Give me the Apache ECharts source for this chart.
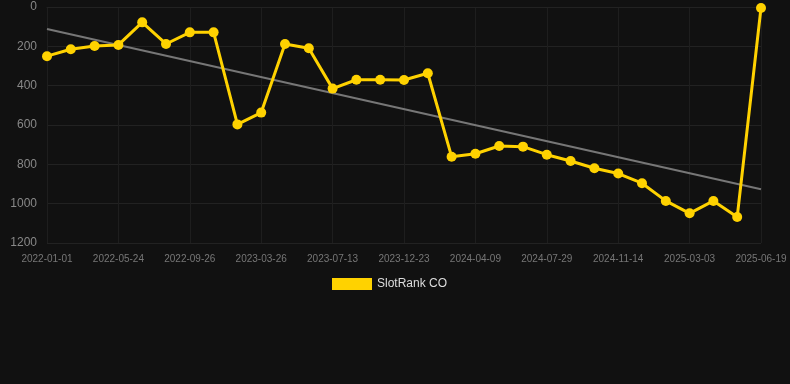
<!DOCTYPE html>
<html><head><meta charset="utf-8">
<script src="https://cdn.jsdelivr.net/npm/echarts@6/dist/echarts.min.js"></script>
<style>html,body{margin:0;padding:0;background:#111111;}#c{width:790px;height:384px;}</style>
</head><body><div id="c"></div>
<script>
const categories = [
 '2022-01-01','2022-02-18','2022-04-07','2022-05-24','2022-07-05','2022-08-15',
 '2022-09-26','2022-11-25','2023-01-24','2023-03-26','2023-05-01','2023-06-06',
 '2023-07-13','2023-09-06','2023-10-30','2023-12-23','2024-01-28','2024-03-04',
 '2024-04-09','2024-05-16','2024-06-22','2024-07-29','2024-09-03','2024-10-09',
 '2024-11-14','2024-12-20','2025-01-25','2025-03-03','2025-04-08','2025-05-14',
 '2025-06-19'
];
const rankValues = [
 250, 215, 198, 193, 78, 188, 129, 129, 597, 537, 188, 210,
 415, 370, 370, 371, 337, 761, 746, 707, 710, 751, 783, 820,
 847, 896, 986, 1049, 986, 1068, 5
];
const trendStart = 112;
const trendEnd = 927;
const trendValues = categories.map((c, i) => i === 0 ? trendStart : (i === categories.length - 1 ? trendEnd : null));

const chart = echarts.init(document.getElementById('c'));
chart.setOption({
  backgroundColor: '#111111',
  animation: false,
  grid: { left: 47, right: 29, top: 7, bottom: 141, containLabel: false },
  legend: {
    top: 273, left: 327,
    itemWidth: 40, itemHeight: 12,
    textStyle: { color: '#dddddd', fontSize: 12, fontFamily: 'Liberation Sans, Arial, sans-serif' },
    data: [{ name: 'SlotRank CO', icon: 'rect' }]
  },
  xAxis: {
    type: 'category', data: categories, boundaryGap: false,
    axisLine: { lineStyle: { color: '#222222' } },
    axisTick: { show: false },
    axisLabel: { interval: 2, color: '#777777', fontSize: 10, margin: 11, fontFamily: 'Liberation Sans, Arial, sans-serif' },
    splitLine: { show: true, interval: 2, lineStyle: { color: '#1e1e1e' } }
  },
  yAxis: {
    type: 'value', inverse: true, min: 0, max: 1200, interval: 200,
    axisLine: { show: false }, axisTick: { show: false },
    axisLabel: { color: '#888888', fontSize: 12, margin: 10, fontFamily: 'Liberation Sans, Arial, sans-serif', formatter: v => String(v) },
    splitLine: { lineStyle: { color: '#222222' } }
  },
  series: [
    {
      name: 'SlotRank CO', type: 'line', data: rankValues,
      symbol: 'circle', symbolSize: 10,
      lineStyle: { color: '#ffd200', width: 3 },
      itemStyle: { color: '#ffd200' },
      z: 3
    },
    {
      name: 'trend', type: 'line', data: trendValues, connectNulls: true,
      symbol: 'none', lineStyle: { color: '#777777', width: 2 },
      z: 2, silent: true
    }
  ]
});
</script></body></html>
